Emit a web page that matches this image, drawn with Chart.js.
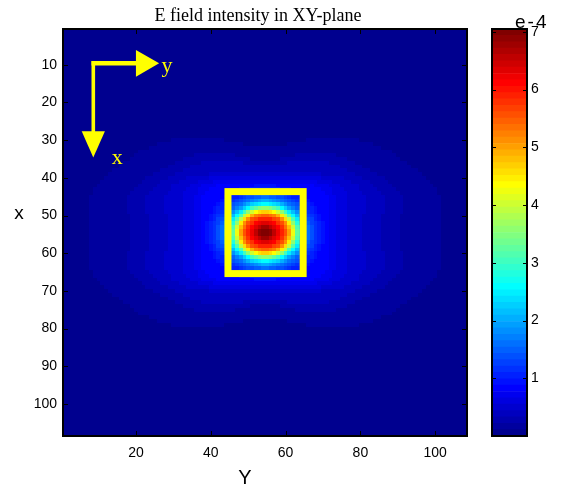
<!DOCTYPE html>
<html>
<head>
<meta charset="utf-8">
<title>E field intensity in XY-plane</title>
<script src="https://cdn.jsdelivr.net/npm/chart.js@4.4.1/dist/chart.umd.min.js"></script>
<style>
  html, body { margin: 0; padding: 0; background: #ffffff; }
  #wrap { position: relative; width: 565px; height: 485px; }
  #wrap canvas { position: absolute; left: 0; top: 0; }
</style>
</head>
<body>
<div id="wrap">
  <canvas id="field" width="565" height="485"></canvas>
  <canvas id="scalebar" width="565" height="485"></canvas>
</div>
<script>
// ---- grid and axes ----
const GRID_SIZE = 108;                 // cells per side (rows x, columns Y)
const xTickValues = [20, 40, 60, 80, 100];
const yTickValues = [10, 20, 30, 40, 50, 60, 70, 80, 90, 100];
const colorTickValues = [1, 2, 3, 4, 5, 6, 7];
const colorMax = 7.05;                 // intensity at the top of the colour bar (x 1e-4)
const LEVELS = 64;                     // steps of the jet colour map

// Field is mirror-symmetric about the centre (between rows/cols 54 and 55).
// coreLevels[i][j]: colour level of the cell i rows and j columns out from the centre.
const coreLevels = [
  [63, 62, 59, 56, 53, 50, 45, 38, 29, 22, 17, 14, 12, 10, 9, 8, 7],
  [61, 59, 57, 55, 52, 48, 43, 36, 28, 21, 16, 14, 12, 10, 9, 8, 7],
  [57, 56, 55, 52, 50, 46, 40, 32, 25, 19, 16, 13, 11, 10, 9, 8, 7],
  [53, 53, 51, 50, 46, 41, 35, 28, 22, 17, 14, 12, 11, 9, 8, 7, 7],
  [49, 48, 47, 44, 40, 35, 28, 23, 19, 15, 13, 11, 10, 9, 8, 7, 7],
  [42, 41, 39, 36, 32, 27, 22, 19, 16, 14, 12, 10, 9, 8, 7, 7, 7],
  [32, 31, 29, 27, 23, 20, 17, 15, 13, 12, 10, 9, 9, 8, 7, 7, 7],
  [23, 22, 21, 20, 18, 16, 14, 13, 12, 10, 9, 9, 8, 7, 7, 7, 7],
  [18, 17, 16, 15, 14, 13, 12, 11, 10, 9, 9, 8, 7, 7, 7, 7, 7],
  [14, 13, 13, 12, 12, 11, 10, 9, 9, 8, 8, 7, 7, 7, 7, 7, 7],
  [11, 11, 10, 10, 10, 9, 9, 8, 8, 7, 7, 7, 7, 7, 7, 7, 6],
  [9, 9, 9, 9, 8, 8, 8, 7, 7, 7, 7, 7, 7, 7, 7, 6, 6],
  [8, 8, 8, 7, 7, 7, 7, 7, 7, 7, 7, 7, 7, 6, 6, 6, 6]
];

// Outer halo: for level k, the farthest column offset reached on each row offset.
const halo1 = [46, 46, 46, 46, 46, 46, 46, 46, 46, 46, 45, 45, 44, 43, 42, 41, 40, 38, 37, 35, 34, 33, 30, 28, 24];
const halo2 = [35, 35, 35, 35, 35, 36, 36, 36, 36, 36, 35, 34, 33, 32, 31, 29, 27, 25, 23, 21, 18];
const halo3 = [30, 30, 30, 30, 30, 31, 31, 31, 31, 31, 30, 29, 28, 27, 25, 23, 21, 19, 16];
const halo4 = [25, 25, 25, 25, 25, 26, 26, 26, 26, 26, 25, 24, 24, 22, 20, 14];
const halo5 = [21, 21, 21, 21, 21, 21, 21, 21, 21, 21, 21, 20, 19, 17, 14];
const halo6 = [18, 18, 18, 18, 18, 18, 18, 18, 18, 18, 17, 17, 16, 13];
const halo7 = [16, 16, 16, 16, 16, 16, 16, 16, 16, 16, 15, 14, 12];
// rows where a halo level starts away from the centre column (the two-lobed top edge)
const halo1Start = { 23: 6, 24: 11 };
const halo2Start = { 19: 4, 20: 8 };
const halo3Start = { 18: 6 };

const haloReach = [halo1, halo2, halo3, halo4, halo5, halo6, halo7];
const haloStart = [halo1Start, halo2Start, halo3Start, {}, {}, {}, {}];

function quadrantLevel(i, j) {
  let lvl = 0;
  haloReach.forEach((reach, k) => {
    const to = reach[i];
    if (to === undefined) return;
    const from = haloStart[k][i] || 0;
    if (j >= from && j <= to) lvl = Math.max(lvl, k + 1);
  });
  if (i < coreLevels.length && j < coreLevels[i].length) lvl = Math.max(lvl, coreLevels[i][j]);
  return lvl;
}

// MATLAB-style jet(64)
function jetLevel(k) {
  let r, g, b;
  if (k < 8)       { r = 0; g = 0; b = 0.5625 + k / 16; }
  else if (k < 24) { r = 0; g = (k - 7) / 16; b = 1; }
  else if (k < 40) { r = (k - 23) / 16; g = 1; b = 1 - (k - 23) / 16; }
  else if (k < 56) { r = 1; g = 1 - (k - 39) / 16; b = 0; }
  else             { r = 1 - (k - 55) / 16; g = 0; b = 0; }
  return `rgb(${Math.round(r * 255)},${Math.round(g * 255)},${Math.round(b * 255)})`;
}
function jetValue(v) {
  const k = Math.max(0, Math.min(LEVELS - 1, Math.floor(v / colorMax * LEVELS)));
  return jetLevel(k);
}

// full 108 x 108 cell list
const cells = [];
for (let r = 1; r <= GRID_SIZE; r++) {
  for (let c = 1; c <= GRID_SIZE; c++) {
    const i = r <= GRID_SIZE / 2 ? GRID_SIZE / 2 - r : r - GRID_SIZE / 2 - 1;
    const j = c <= GRID_SIZE / 2 ? GRID_SIZE / 2 - c : c - GRID_SIZE / 2 - 1;
    const lvl = quadrantLevel(i, j);
    cells.push({ x: c, y: r, v: (lvl + 0.5) * colorMax / LEVELS });
  }
}

// ---- overlay shapes in grid units (column, row) ----
const markerBox = { colFrom: 44.6, colTo: 64.7, rowFrom: 43.65, rowTo: 65.4 };
const axisArrows = {
  corner: { col: 8.6, row: 9.6 },
  yHeadBase: 20.0, yTip: 26.2, yHalf: 3.55,   // arrow along columns
  xHeadBase: 27.6, xTip: 34.6, xHalf: 3.1     // arrow along rows
};
const arrowLabelY = { col: 26.8, row: 11.9 };
const arrowLabelX = { col: 13.5, row: 36.2 };

const YELLOW = '#ffff00';
const SANS = '"Liberation Sans", Arial, sans-serif';
const SERIF = '"Liberation Serif", "Times New Roman", serif';

const heatmapPlugin = {
  id: 'heatmap',
  beforeDatasetsDraw(chart) {
    const { ctx } = chart;
    const xs = chart.scales.x, ys = chart.scales.y;
    const data = chart.data.datasets[0].data;
    ctx.save();
    for (const p of data) {
      const x0 = Math.round(xs.getPixelForValue(p.x - 0.5));
      const x1 = Math.round(xs.getPixelForValue(p.x + 0.5));
      const y0 = Math.round(ys.getPixelForValue(p.y - 0.5));
      const y1 = Math.round(ys.getPixelForValue(p.y + 0.5));
      ctx.fillStyle = jetValue(p.v);
      ctx.fillRect(x0, Math.min(y0, y1), x1 - x0, Math.abs(y1 - y0));
    }
    ctx.restore();
  },
  afterDatasetsDraw(chart) {
    const { ctx, chartArea: a } = chart;
    const xs = chart.scales.x, ys = chart.scales.y;
    const px = v => xs.getPixelForValue(v);
    const py = v => ys.getPixelForValue(v);
    ctx.save();

    // yellow marker box
    ctx.strokeStyle = YELLOW;
    ctx.lineWidth = 7;
    ctx.lineJoin = 'miter';
    ctx.strokeRect(px(markerBox.colFrom), py(markerBox.rowFrom),
      px(markerBox.colTo) - px(markerBox.colFrom), py(markerBox.rowTo) - py(markerBox.rowFrom));

    // orientation arrows
    const cx = px(axisArrows.corner.col), cy = py(axisArrows.corner.row);
    ctx.fillStyle = YELLOW;
    ctx.strokeStyle = YELLOW;
    ctx.lineCap = 'butt';
    ctx.lineWidth = 4.5;
    ctx.beginPath();
    ctx.moveTo(cx - 1.8, cy);
    ctx.lineTo(px(axisArrows.yHeadBase) + 1, cy);
    ctx.stroke();
    ctx.beginPath();
    ctx.moveTo(px(axisArrows.yHeadBase), py(axisArrows.corner.row - axisArrows.yHalf));
    ctx.lineTo(px(axisArrows.yTip), cy);
    ctx.lineTo(px(axisArrows.yHeadBase), py(axisArrows.corner.row + axisArrows.yHalf));
    ctx.closePath();
    ctx.fill();
    ctx.lineWidth = 3.6;
    ctx.beginPath();
    ctx.moveTo(cx, cy - 2.2);
    ctx.lineTo(cx, py(axisArrows.xHeadBase) + 1);
    ctx.stroke();
    ctx.beginPath();
    ctx.moveTo(px(axisArrows.corner.col - axisArrows.xHalf), py(axisArrows.xHeadBase));
    ctx.lineTo(cx, py(axisArrows.xTip));
    ctx.lineTo(px(axisArrows.corner.col + axisArrows.xHalf), py(axisArrows.xHeadBase));
    ctx.closePath();
    ctx.fill();

    ctx.font = '22px ' + SERIF;
    ctx.textAlign = 'left';
    ctx.textBaseline = 'alphabetic';
    ctx.fillText('y', px(arrowLabelY.col), py(arrowLabelY.row));
    ctx.fillText('x', px(arrowLabelX.col), py(arrowLabelX.row));

    // inward tick marks on all four sides
    ctx.strokeStyle = '#000';
    ctx.lineWidth = 1;
    const tl = 5;
    ctx.beginPath();
    xTickValues.forEach(v => {
      const x = Math.round(px(v)) + 0.5;
      ctx.moveTo(x, a.bottom); ctx.lineTo(x, a.bottom - tl);
      ctx.moveTo(x, a.top); ctx.lineTo(x, a.top + tl);
    });
    yTickValues.forEach(v => {
      const y = Math.round(py(v)) + 0.5;
      ctx.moveTo(a.left, y); ctx.lineTo(a.left + tl, y);
      ctx.moveTo(a.right, y); ctx.lineTo(a.right - tl, y);
    });
    ctx.stroke();

    // axes box
    ctx.lineWidth = 2;
    ctx.strokeRect(a.left, a.top, a.right - a.left, a.bottom - a.top);
    ctx.restore();
  },
  afterDraw(chart) {
    const { ctx } = chart;
    ctx.save();
    ctx.fillStyle = '#000';
    ctx.textAlign = 'center';
    ctx.textBaseline = 'alphabetic';
    ctx.font = '18px ' + SERIF;
    ctx.fillText('E field intensity in XY-plane', 258, 21);
    ctx.font = '20px ' + SANS;
    ctx.fillText('Y', 245, 484);
    ctx.font = '19px ' + SANS;
    ctx.textBaseline = 'middle';
    ctx.fillText('x', 19, 214);
    ctx.restore();
  }
};

const tickFont = { family: SANS, size: 14 };

new Chart(document.getElementById('field'), {
  type: 'scatter',
  data: { datasets: [{ data: cells, pointRadius: 0, pointHoverRadius: 0, showLine: false }] },
  options: {
    responsive: false,
    animation: false,
    events: [],
    layout: { padding: { left: 0, right: 98, top: 29, bottom: 0 } },
    plugins: { legend: { display: false }, tooltip: { enabled: false }, title: { display: false } },
    scales: {
      x: {
        type: 'linear', min: 0.5, max: GRID_SIZE + 0.5,
        afterBuildTicks(s) { s.ticks = xTickValues.map(v => ({ value: v })); },
        afterFit(s) { s.height = 49; },
        grid: { display: false, drawTicks: false },
        border: { display: false },
        ticks: { color: '#000', font: tickFont, padding: 9, maxRotation: 0, autoSkip: false }
      },
      y: {
        type: 'linear', reverse: true, min: 0.5, max: GRID_SIZE + 0.5,
        afterBuildTicks(s) { s.ticks = yTickValues.map(v => ({ value: v })); },
        afterFit(s) { s.width = 63; },
        grid: { display: false, drawTicks: false },
        border: { display: false },
        ticks: { color: '#000', font: tickFont, padding: 6, autoSkip: false }
      }
    }
  },
  plugins: [heatmapPlugin]
});

// ---- colour bar ----
const colorBins = Array.from({ length: LEVELS }, (_, k) => [k * colorMax / LEVELS, (k + 1) * colorMax / LEVELS]);

const scaleBarPlugin = {
  id: 'scaleBarFrame',
  afterDatasetsDraw(chart) {
    const { ctx, chartArea: a } = chart;
    const ys = chart.scales.y;
    ctx.save();
    ctx.strokeStyle = '#000';
    ctx.lineWidth = 1;
    ctx.beginPath();
    colorTickValues.forEach(v => {
      const y = Math.round(ys.getPixelForValue(v)) + 0.5;
      ctx.moveTo(a.left, y); ctx.lineTo(a.left + 4, y);
      ctx.moveTo(a.right, y); ctx.lineTo(a.right - 4, y);
    });
    ctx.stroke();
    ctx.lineWidth = 2;
    ctx.strokeRect(a.left, a.top, a.right - a.left, a.bottom - a.top);
    ctx.fillStyle = '#000';
    ctx.font = '19px ' + SANS;
    ctx.textAlign = 'left';
    ctx.textBaseline = 'alphabetic';
    if ('letterSpacing' in ctx) ctx.letterSpacing = '2px';
    ctx.fillText('e-4', 515, 28);
    ctx.restore();
  }
};

new Chart(document.getElementById('scalebar'), {
  type: 'bar',
  data: {
    labels: [''],
    datasets: colorBins.map((bin, k) => ({
      data: [bin],
      backgroundColor: jetLevel(k),
      borderWidth: 0,
      grouped: false,
      barPercentage: 1,
      categoryPercentage: 1
    }))
  },
  options: {
    responsive: false,
    animation: false,
    events: [],
    layout: { padding: { left: 492, right: 0, top: 29, bottom: 49 } },
    plugins: { legend: { display: false }, tooltip: { enabled: false } },
    scales: {
      x: { display: false },
      y: {
        position: 'right', min: 0, max: colorMax,
        afterBuildTicks(s) { s.ticks = colorTickValues.map(v => ({ value: v })); },
        afterFit(s) { s.width = 38; },
        grid: { display: false, drawTicks: false },
        border: { display: false },
        ticks: { color: '#000', font: tickFont, padding: 4, autoSkip: false }
      }
    }
  },
  plugins: [scaleBarPlugin]
});
</script>
</body>
</html>
